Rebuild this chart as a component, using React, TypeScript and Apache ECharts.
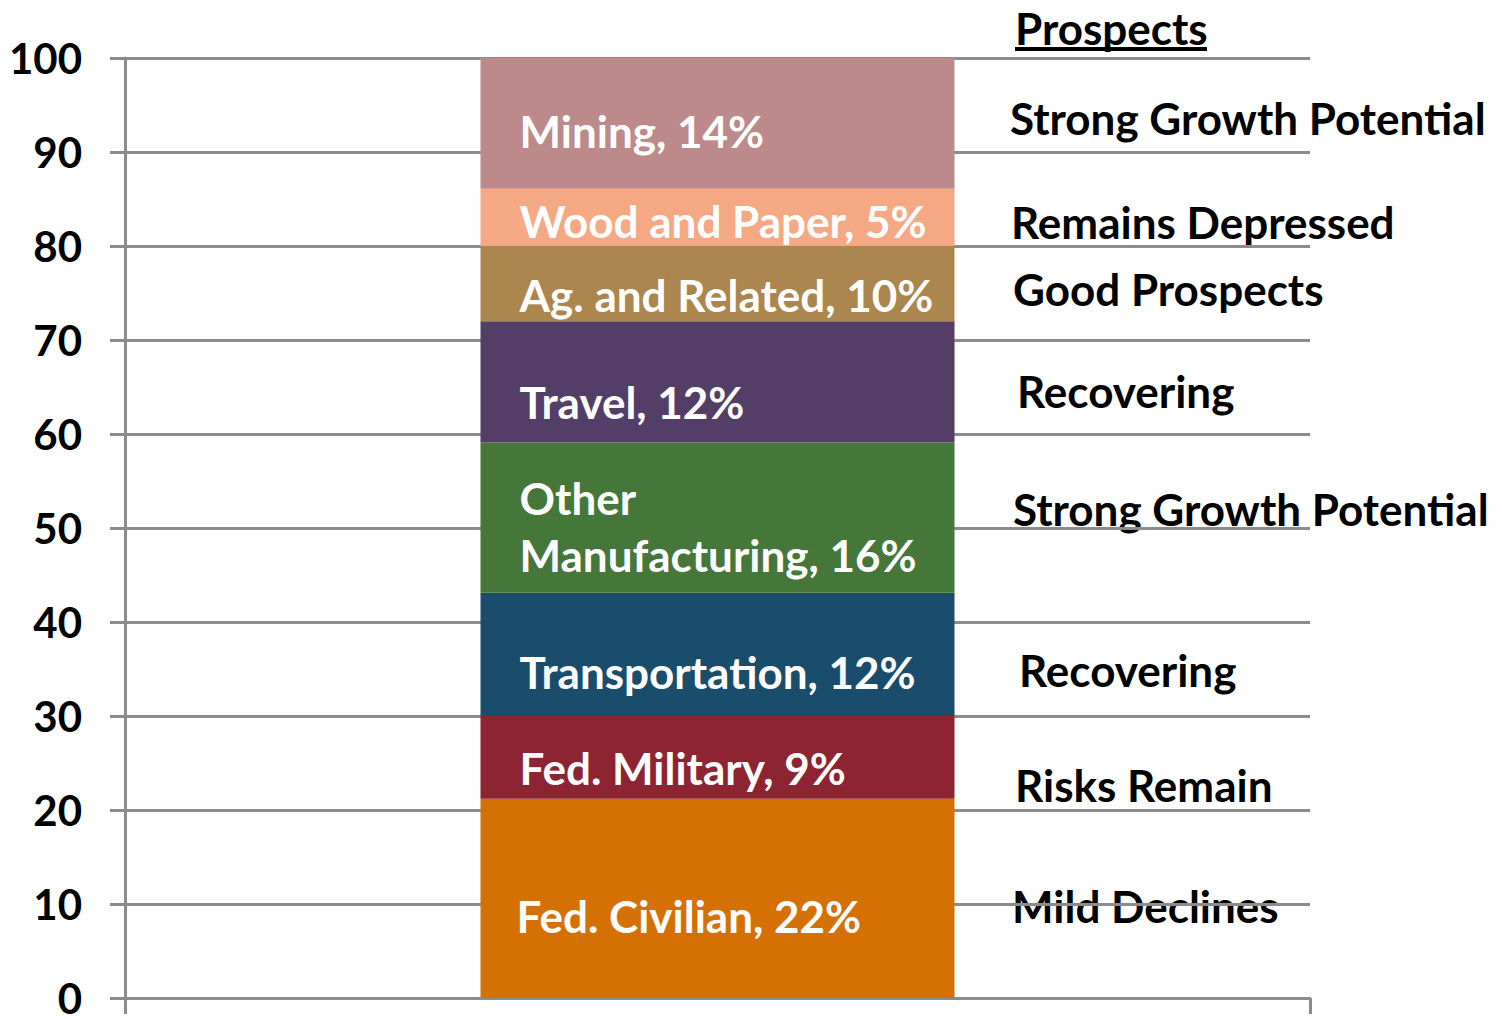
import React, { useEffect, useRef } from "react";
import * as echarts from "echarts";

// ---- data ----
const categories = [""];
const segmentNames = [
  "Fed. Civilian",
  "Fed. Military",
  "Transportation",
  "Other Manufacturing",
  "Travel",
  "Ag. and Related",
  "Wood and Paper",
  "Mining",
];
// segment heights as drawn in the picture
const segmentValues = [21.2, 8.8, 13.1, 16.0, 12.9, 8.0, 6.1, 13.9];
// labels printed on the segments
const segmentLabels = [
  "Fed. Civilian, 22%",
  "Fed. Military, 9%",
  "Transportation, 12%",
  "Other\nManufacturing, 16%",
  "Travel, 12%",
  "Ag. and Related, 10%",
  "Wood and Paper, 5%",
  "Mining, 14%",
];
const prospectsTitle = "Prospects";
const prospectLabels = [
  "Strong Growth Potential",
  "Remains Depressed",
  "Good Prospects",
  "Recovering",
  "Strong Growth Potential",
  "Recovering",
  "Risks Remain",
  "Mild Declines",
];
const yMin = 0;
const yMax = 100;
const yInterval = 10;

// ---- styles / layout ----
const segmentColors = [
  "#D47004",
  "#8C2431",
  "#1A4D6C",
  "#45763A",
  "#533E68",
  "#AB864E",
  "#F4A984",
  "#BC8A8B",
];
const labelOffsets: [number, number][] = [
  [31, 18],
  [34, 11],
  [34, 18],
  [34, 9],
  [34, 20],
  [34, 11],
  [34, 4],
  [34, 8],
];
const prospectPos: [number, number][] = [
  [1010, 118],
  [1011, 222],
  [1013, 289],
  [1017, 391],
  [1013, 509],
  [1019, 670],
  [1015, 785],
  [1012, 906],
];

const FONT = "Lato, 'Open Sans', sans-serif";
const FS = 44;
const GRID_COLOR = "#8C8C8C";

export default function App() {
  const ref = useRef<HTMLDivElement>(null);
  useEffect(() => {
    if (!ref.current) return;
    const chart = echarts.init(ref.current, undefined, { renderer: "svg" });
    const series = segmentNames.map((name, i) => ({
      type: "bar",
      name,
      stack: "total",
      barWidth: "40%",
      data: [segmentValues[i]],
      itemStyle: { color: segmentColors[i] },
      label: {
        show: true,
        position: "insideLeft",
        distance: 5,
        offset: labelOffsets[i],
        formatter: segmentLabels[i],
        color: "#FFFFFF",
        fontFamily: FONT,
        fontWeight: "bold",
        fontSize: FS,
        lineHeight: 57,
        align: "left",
      },
    }));
    const textEl = (text: string, x: number, y: number) => ({
      type: "text",
      x,
      y,
      style: {
        text,
        fill: "#000000",
        font: `bold ${FS}px ${FONT}`,
        align: "left",
        verticalAlign: "middle",
        textAlign: "left",
        textVerticalAlign: "middle",
      },
    });
    chart.setOption({
      animation: false,
      grid: { left: 125, right: 192, top: 58, bottom: 16, containLabel: false },
      xAxis: {
        type: "category",
        data: categories,
        axisLine: { show: true, lineStyle: { color: GRID_COLOR, width: 3 } },
        axisTick: { show: true, length: 16, lineStyle: { color: GRID_COLOR, width: 3 } },
        axisLabel: { show: false },
      },
      yAxis: {
        type: "value",
        min: yMin,
        max: yMax,
        interval: yInterval,
        axisLine: { show: true, lineStyle: { color: GRID_COLOR, width: 3 } },
        axisTick: { show: true, length: 15, lineStyle: { color: GRID_COLOR, width: 3 } },
        splitLine: { show: true, lineStyle: { color: GRID_COLOR, width: 3 } },
        axisLabel: {
          show: true,
          margin: 43,
          color: "#000000",
          fontFamily: FONT,
          fontWeight: "bold",
          fontSize: 42,
        },
      },
      series,
      graphic: [
        textEl(prospectsTitle, 1015, 28),
        {
          type: "rect",
          shape: { x: 1015, y: 47, width: 192, height: 4 },
          style: { fill: "#000000" },
        },
        ...prospectLabels.map((t, i) => textEl(t, prospectPos[i][0], prospectPos[i][1])),
      ],
    });
    return () => chart.dispose();
  }, []);
  return (
    <div
      ref={ref}
      style={{ position: "absolute", left: 0, top: 0, width: 1502, height: 1019 }}
    />
  );
}
